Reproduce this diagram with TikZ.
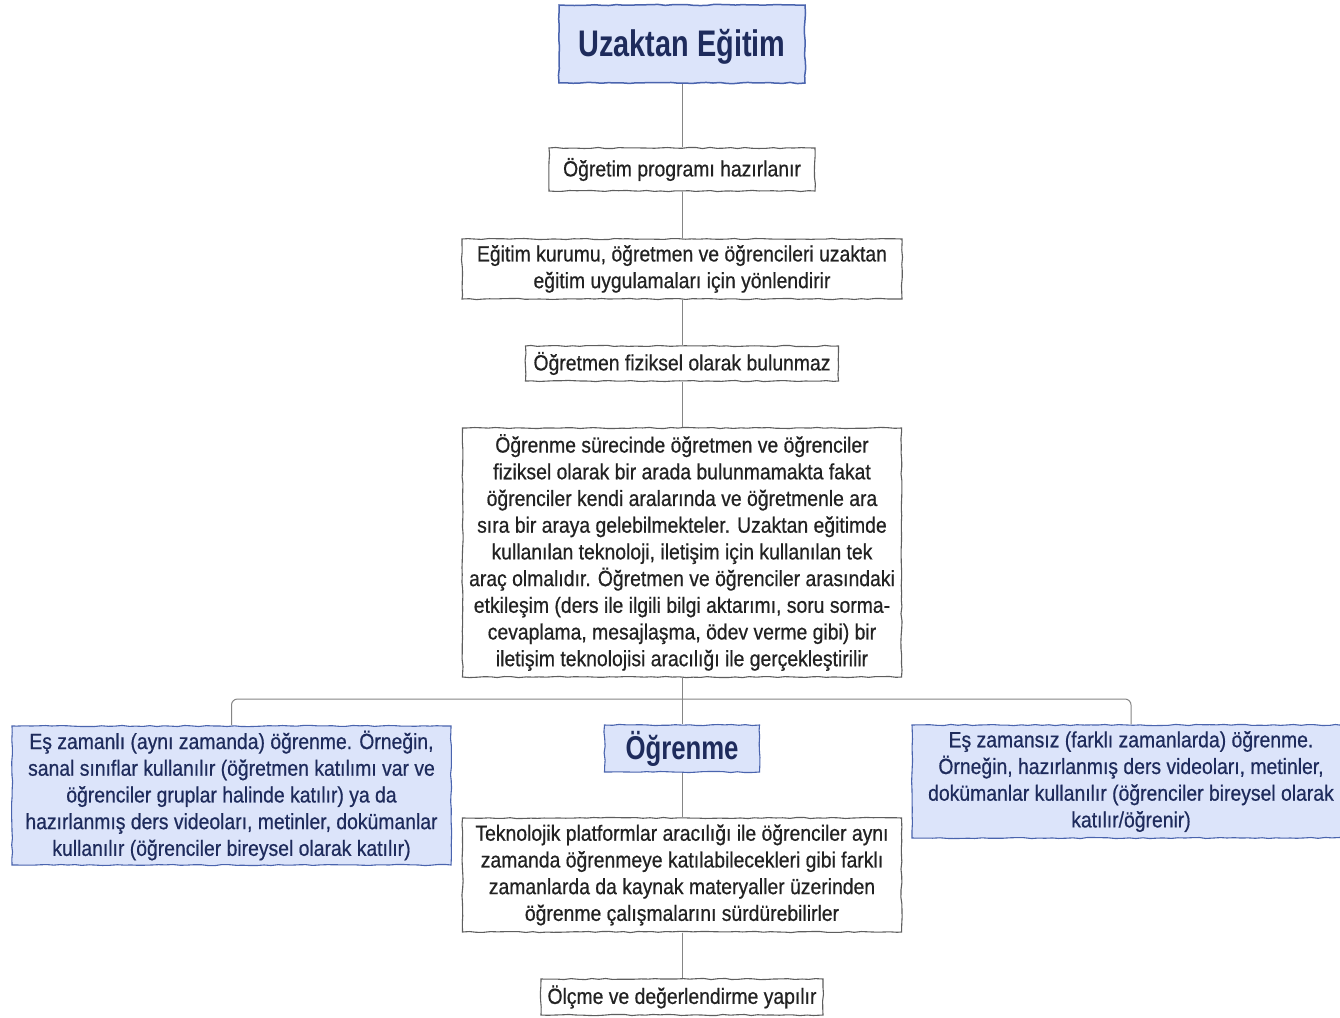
\documentclass[tikz,border=0pt]{standalone}
\usepackage{fontspec}
\setmainfont{Liberation Sans}[FakeStretch=0.88,FakeBold=0.6]
\newfontfamily\headfont{Liberation Sans Bold}[FakeStretch=0.78]
\usetikzlibrary{decorations.pathmorphing}
\definecolor{bluefill}{HTML}{DCE4FA}
\definecolor{blueline}{HTML}{4A64AE}
\definecolor{navytext}{HTML}{1E2B5C}
\definecolor{greyline}{HTML}{5E5E5E}
\definecolor{conn}{HTML}{858585}
\definecolor{bodytext}{HTML}{222222}
\begin{document}
\pgfmathsetseed{7}
\begin{tikzpicture}[x=1pt,y=-1pt,
  rough/.style={decorate,decoration={random steps,segment length=7pt,amplitude=0.6pt}},
  basebox/.style={rough,align=center,inner sep=0pt,line width=1.1pt,
    font=\fontsize{22}{26.7}\selectfont},
  greybox/.style={basebox,draw=greyline,fill=white,text=bodytext},
  bluebox/.style={basebox,draw=blueline,fill=bluefill,text=navytext},
  headbox/.style={bluebox,line width=1.5pt},
  link/.style={draw=conn,line width=1pt}]
\fill[white] (0,0) rectangle (1340,1017);
\useasboundingbox (0,0) rectangle (1340,1017);

\node[headbox,font=\headfont\fontsize{37}{40}\selectfont,minimum width=246,minimum height=78] (t) at (682,44) {\raisebox{-3pt}[\height][\depth]{Uzaktan Eğitim}};
\node[greybox,minimum width=266,minimum height=43] (a) at (682,169.5) {Öğretim programı hazırlanır};
\node[greybox,minimum width=440,minimum height=60] (b) at (682,269) {Eğitim kurumu, öğretmen ve öğrencileri uzaktan\\eğitim uygulamaları için yönlendirir};
\node[greybox,minimum width=313,minimum height=35] (c) at (682,363.5) {Öğretmen fiziksel olarak bulunmaz};
\node[greybox,minimum width=439,minimum height=249] (d) at (682,552.5) {Öğrenme sürecinde öğretmen ve öğrenciler\\fiziksel olarak bir arada bulunmamakta fakat\\öğrenciler kendi aralarında ve öğretmenle ara\\sıra bir araya gelebilmekteler. Uzaktan eğitimde\\kullanılan teknoloji, iletişim için kullanılan tek\\araç olmalıdır. Öğretmen ve öğrenciler arasındaki\\etkileşim (ders ile ilgili bilgi aktarımı, soru sorma-\\cevaplama, mesajlaşma, ödev verme gibi) bir\\iletişim teknolojisi aracılığı ile gerçekleştirilir};
\node[bluebox,minimum width=439,minimum height=139] (l) at (231.5,795.5) {Eş zamanlı (aynı zamanda) öğrenme. Örneğin,\\sanal sınıflar kullanılır (öğretmen katılımı var ve\\öğrenciler gruplar halinde katılır) ya da\\hazırlanmış ders videoları, metinler, dokümanlar\\kullanılır (öğrenciler bireysel olarak katılır)};
\node[bluebox,font=\headfont\fontsize{33}{36}\selectfont,minimum width=155,minimum height=47] (o) at (682,748.5) {Öğrenme};
\node[bluebox,minimum width=438,minimum height=113] (r) at (1131,781.5) {Eş zamansız (farklı zamanlarda) öğrenme.\\Örneğin, hazırlanmış ders videoları, metinler,\\dokümanlar kullanılır (öğrenciler bireysel olarak\\katılır/öğrenir)};
\node[greybox,minimum width=439,minimum height=114] (e) at (682,875) {Teknolojik platformlar aracılığı ile öğrenciler aynı\\zamanda öğrenmeye katılabilecekleri gibi farklı\\zamanlarda da kaynak materyaller üzerinden\\öğrenme çalışmalarını sürdürebilirler};
\node[greybox,minimum width=282,minimum height=36] (f) at (682,997) {Ölçme ve değerlendirme yapılır};
\coordinate (j) at (682,699);

\draw[link] (t) -- (a);
\draw[link] (a) -- (b);
\draw[link] (b) -- (c);
\draw[link] (c) -- (d);
\draw[link] (d) -- (o);
\draw[link] (o) -- (e);
\draw[link] (e) -- (f);
\draw[link,rounded corners=6pt] (l.north) |- (j) -| (r.north);
\end{tikzpicture}
\end{document}
